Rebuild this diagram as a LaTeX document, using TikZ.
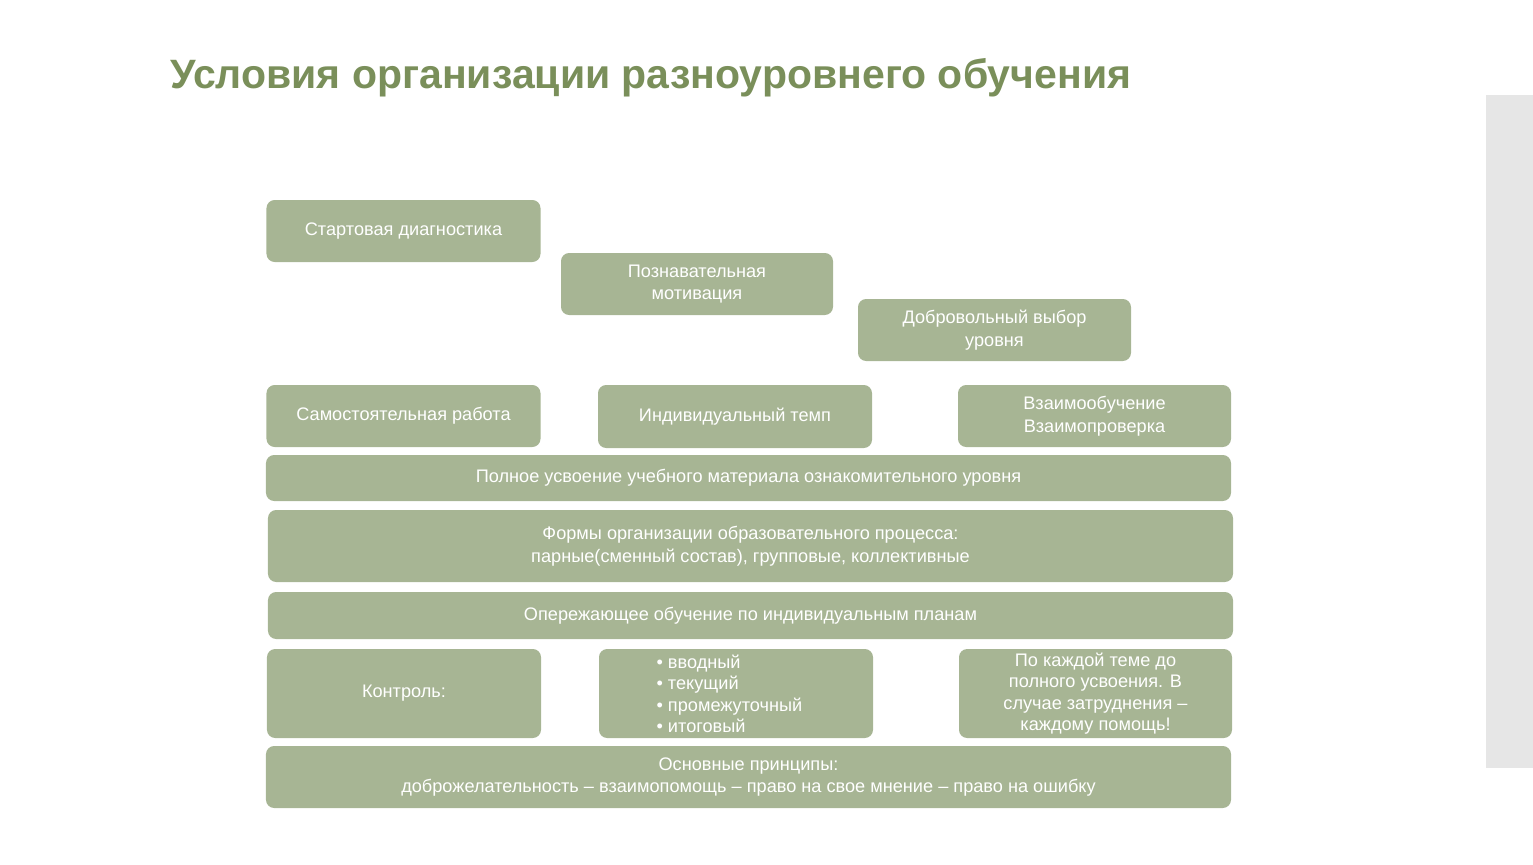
\documentclass[tikz,border=0pt]{standalone}
\usepackage{fontspec}
\setmainfont{Liberation Sans}
\definecolor{sage}{HTML}{A7B594}
\definecolor{titlegreen}{HTML}{7A8F5A}
\definecolor{bandgray}{HTML}{E6E6E6}
\tikzset{
	cond/.style={
		rectangle, rounded corners=7pt, fill=sage, text=white,
		inner sep=2pt, align=center, font=\fontsize{15.5}{19.5}\selectfont
	}
}
\begin{document}
\begin{tikzpicture}[x=0.03cm,y=-0.03cm]
		\useasboundingbox (0,0) rectangle (1533,864);
		\fill[bandgray] (1486,95) rectangle (1533,768);
		\node[anchor=west, text=titlegreen, font=\fontsize{35}{40}\selectfont\bfseries] (title) at (166,78) {Условия организации разноуровнего обучения};
		
		\node[cond, minimum width=82.2mm, minimum height=18.6mm] (start) at (403.5,231) {Стартовая диагностика};
		\node[cond, minimum width=81.6mm, minimum height=18.6mm] (motiv) at (697,284) {Познавательная\\мотивация};
		\node[cond, minimum width=81.9mm, minimum height=18.6mm] (choice) at (994.5,330) {Добровольный выбор\\уровня};
		
		\node[cond, minimum width=82.2mm, minimum height=18.6mm] (self) at (403.5,416) {Самостоятельная работа};
		\node[cond, minimum width=82.2mm, minimum height=18.9mm] (tempo) at (735,416.5) {Индивидуальный темп};
		\node[cond, minimum width=81.9mm, minimum height=18.6mm] (mutual) at (1094.5,416) {Взаимообучение\\Взаимопроверка};
		
		\node[cond, minimum width=289.5mm, minimum height=13.8mm] (full) at (748.5,478) {Полное усвоение учебного материала ознакомительного уровня};
		\node[cond, minimum width=289.5mm, minimum height=21.6mm] (forms) at (750.5,546) {Формы организации образовательного процесса:\\парные(сменный состав), групповые, коллективные};
		\node[cond, minimum width=289.5mm, minimum height=14.1mm] (ahead) at (750.5,615.5) {Опережающее обучение по индивидуальным планам};
		
		\node[cond, minimum width=82.2mm, minimum height=26.7mm] (control) at (404,693.5) {Контроль:};
		\node[cond, minimum width=82.2mm, minimum height=26.7mm] (kinds) at (736,693.5) {};
		\node[cond, anchor=west, fill=none, align=left, font=\fontsize{15.5}{18.4}\selectfont] (kindlist) at (654,694) {• вводный\\• текущий\\• промежуточный\\• итоговый};
		\node[cond, minimum width=81.9mm, minimum height=26.7mm, font=\fontsize{15.5}{18.4}\selectfont] (help) at (1095.5,693.5) {По каждой теме до\\полного усвоения. В\\случае затруднения –\\каждому помощь!};
		
		\node[cond, minimum width=289.5mm, minimum height=18.6mm] (basics) at (748.5,777) {Основные принципы:\\доброжелательность – взаимопомощь – право на свое мнение – право на ошибку};
		
		\end{tikzpicture}
\end{document}
